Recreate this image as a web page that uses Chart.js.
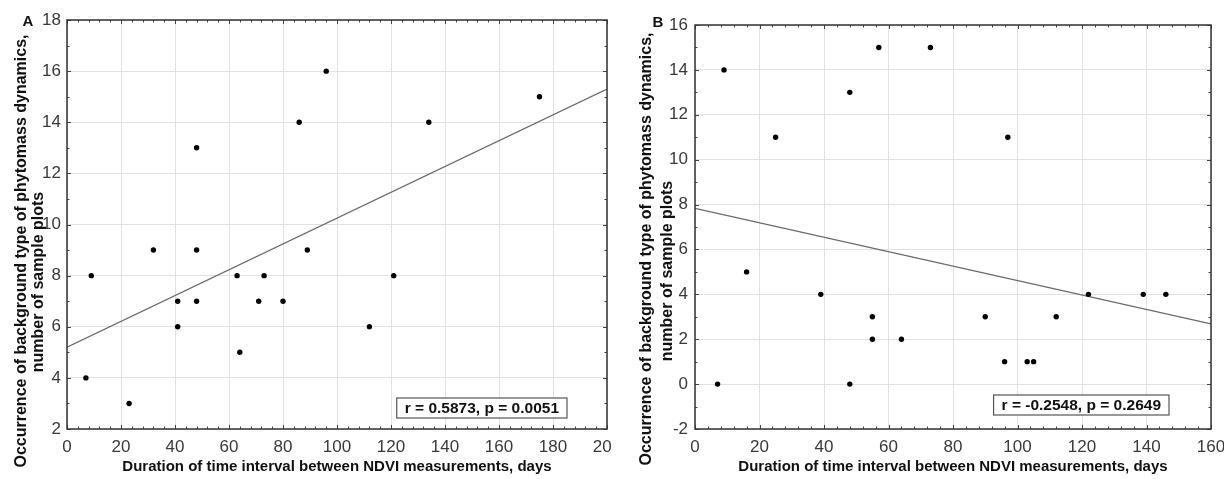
<!DOCTYPE html>
<html>
<head>
<meta charset="utf-8">
<title>NDVI interval vs background type occurrence</title>
<script src="https://cdn.jsdelivr.net/npm/chart.js@4.4.1/dist/chart.umd.min.js"></script>
<style>
    body { margin: 0; background: #fff; }
    .panel { position: absolute; top: 0; width: 612px; height: 479px; }
</style>
</head>
<body>
<div class="panel" style="left:0"><canvas id="chartA" width="612" height="479"></canvas></div>
<div class="panel" style="left:612px"><canvas id="chartB" width="612" height="479"></canvas></div>
<script>
// Panel A data
const aDays  = [7, 9, 23, 32, 41, 41, 48, 48, 48, 63, 64, 71, 73, 80, 86, 89, 96, 112, 121, 134, 175];
const aCount = [4, 8, 3, 9, 7, 6, 13, 9, 7, 8, 5, 7, 8, 7, 14, 9, 16, 6, 8, 14, 15];
const aFitX  = [0, 200];
const aFitY  = [5.2, 15.3];
const aXTicks = [0, 20, 40, 60, 80, 100, 120, 140, 160, 180, 200];
const aYTicks = [2, 4, 6, 8, 10, 12, 14, 16, 18];

// Panel B data
const bDays  = [7, 9, 16, 25, 39, 48, 48, 55, 55, 57, 64, 73, 90, 96, 97, 103, 105, 112, 122, 139, 146];
const bCount = [0, 14, 5, 11, 4, 13, 0, 3, 2, 15, 2, 15, 3, 1, 11, 1, 1, 3, 4, 4, 4];
const bFitX  = [0, 160];
const bFitY  = [7.83, 2.68];
const bXTicks = [0, 20, 40, 60, 80, 100, 120, 140, 160];
const bYTicks = [-2, 0, 2, 4, 6, 8, 10, 12, 14, 16];

const xTitle = 'Duration of time interval between NDVI measurements, days';
const yTitle1 = 'Occurrence of background type of phytomass dynamics,';
const yTitle2 = 'number of sample plots';

const fontFamily = "'Liberation Sans', Arial, sans-serif";
Chart.defaults.font.family = fontFamily;

// frame, inner tick marks, rotated y title, panel letter and r/p box
const panelDecor = {
    id: 'panelDecor',
    afterDatasetsDraw(chart, args, opts) {
        const { ctx, chartArea: a, scales: { x, y } } = chart;
        ctx.save();

        // inner tick marks on all four sides
        ctx.strokeStyle = '#444';
        ctx.lineWidth = 1;
        ctx.beginPath();
        const nx = Math.round((x.max - x.min) / opts.minorX);
        for (let i = 0; i <= nx; i++) {
            const v = x.min + i * opts.minorX;
            const px = Math.round(x.getPixelForValue(v)) + 0.5;
            const len = (i % opts.subX === 0) ? 4 : 2.5;
            ctx.moveTo(px, a.bottom); ctx.lineTo(px, a.bottom - len);
            ctx.moveTo(px, a.top); ctx.lineTo(px, a.top + len);
        }
        const ny = Math.round((y.max - y.min) / opts.minorY);
        for (let i = 0; i <= ny; i++) {
            const v = y.min + i * opts.minorY;
            const py = Math.round(y.getPixelForValue(v)) + 0.5;
            const len = (i % opts.subY === 0) ? 4 : 2.5;
            ctx.moveTo(a.left, py); ctx.lineTo(a.left + len, py);
            ctx.moveTo(a.right, py); ctx.lineTo(a.right - len, py);
        }
        ctx.stroke();

        // frame
        ctx.strokeStyle = '#333';
        ctx.lineWidth = 1.5;
        ctx.strokeRect(a.left, a.top, a.right - a.left, a.bottom - a.top);

        // r / p box
        ctx.font = 'bold 15.5px ' + fontFamily;
        const tw = ctx.measureText(opts.stat).width;
        const bw = tw + 16, bh = 20;
        const bx = a.right - opts.statRight - bw;
        const by = a.bottom - opts.statBottom - bh;
        ctx.fillStyle = '#fff';
        ctx.fillRect(bx, by, bw, bh);
        ctx.strokeStyle = '#555';
        ctx.lineWidth = 1.2;
        ctx.strokeRect(bx, by, bw, bh);
        ctx.fillStyle = '#111';
        ctx.textAlign = 'center';
        ctx.textBaseline = 'middle';
        ctx.fillText(opts.stat, bx + bw / 2, by + bh / 2 + 1);

        // panel letter
        ctx.font = 'bold 15px ' + fontFamily;
        ctx.fillText(opts.letter, opts.letterX, opts.letterY);

        // y axis title, two rotated lines
        ctx.font = 'bold 16px ' + fontFamily;
        opts.yLines.forEach(line => {
            ctx.save();
            ctx.translate(line.x, line.y);
            ctx.rotate(-Math.PI / 2);
            ctx.fillText(line.text, 0, 0);
            ctx.restore();
        });
        ctx.restore();
    }
};

function makeChart(canvasId, days, count, fitX, fitY, xTicks, yTicks, cfg) {
    const ctx = document.getElementById(canvasId);
    if (!ctx) return;

    const points = days.map((d, i) => ({ x: d, y: count[i] }));
    const fit = fitX.map((d, i) => ({ x: d, y: fitY[i] }));

    new Chart(ctx, {
        type: 'scatter',
        data: {
            datasets: [{
                data: points,
                backgroundColor: '#000',
                borderWidth: 0,
                pointRadius: 2.7
            }, {
                data: fit,
                showLine: true,
                borderColor: '#6a6a6a',
                borderWidth: 1.3,
                pointRadius: 0,
                fill: false
            }]
        },
        options: {
            responsive: false,
            devicePixelRatio: 1,
            animation: false,
            events: [],
            layout: {
                padding: { top: cfg.padTop, right: cfg.padRight, bottom: 0, left: 0 }
            },
            plugins: {
                legend: { display: false },
                tooltip: { enabled: false },
                panelDecor: cfg.decor
            },
            scales: {
                x: {
                    type: 'linear',
                    min: xTicks[0],
                    max: xTicks[xTicks.length - 1],
                    afterBuildTicks: s => { s.ticks = xTicks.map(v => ({ value: v })); },
                    afterFit: s => { s.height = 50; s.paddingLeft = 0; s.paddingRight = 0; },
                    grid: { color: '#e2e2e2', drawTicks: false },
                    border: { display: false },
                    ticks: {
                        color: '#3a3a3a',
                        font: { size: 17 },
                        padding: 8,
                        maxRotation: 0,
                        autoSkip: false
                    },
                    title: {
                        display: true,
                        text: xTitle,
                        color: '#111',
                        font: { size: 15, weight: 'bold' },
                        padding: { top: 0, bottom: 3 }
                    }
                },
                y: {
                    type: 'linear',
                    min: yTicks[0],
                    max: yTicks[yTicks.length - 1],
                    afterBuildTicks: s => { s.ticks = yTicks.map(v => ({ value: v })); },
                    afterFit: s => { s.width = cfg.yWidth; s.paddingTop = 0; s.paddingBottom = 0; },
                    grid: { color: '#e2e2e2', drawTicks: false },
                    border: { display: false },
                    ticks: {
                        color: '#3a3a3a',
                        font: { size: 17 },
                        padding: cfg.yPad,
                        autoSkip: false
                    }
                }
            }
        },
        plugins: [panelDecor]
    });
}

document.addEventListener('DOMContentLoaded', function() {
    makeChart('chartA', aDays, aCount, aFitX, aFitY, aXTicks, aYTicks, {
        padTop: 20, padRight: 5, yWidth: 67, yPad: 6,
        decor: {
            minorX: 4, subX: 5, minorY: 1, subY: 2,
            stat: 'r = 0.5873, p = 0.0051', statRight: 40, statBottom: 11,
            letter: 'A', letterX: 28, letterY: 22,
            yLines: [
                { text: yTitle1, x: 22, y: 251 },
                { text: yTitle2, x: 39, y: 282 }
            ]
        }
    });

    makeChart('chartB', bDays, bCount, bFitX, bFitY, bXTicks, bYTicks, {
        padTop: 25, padRight: 13, yWidth: 83, yPad: 7,
        decor: {
            minorX: 4, subX: 5, minorY: 1, subY: 2,
            stat: 'r = -0.2548, p = 0.2649', statRight: 42, statBottom: 14,
            letter: 'B', letterX: 46, letterY: 23,
            yLines: [
                { text: yTitle1, x: 35, y: 249 },
                { text: yTitle2, x: 56, y: 271 }
            ]
        }
    });
});
</script>
</body>
</html>
